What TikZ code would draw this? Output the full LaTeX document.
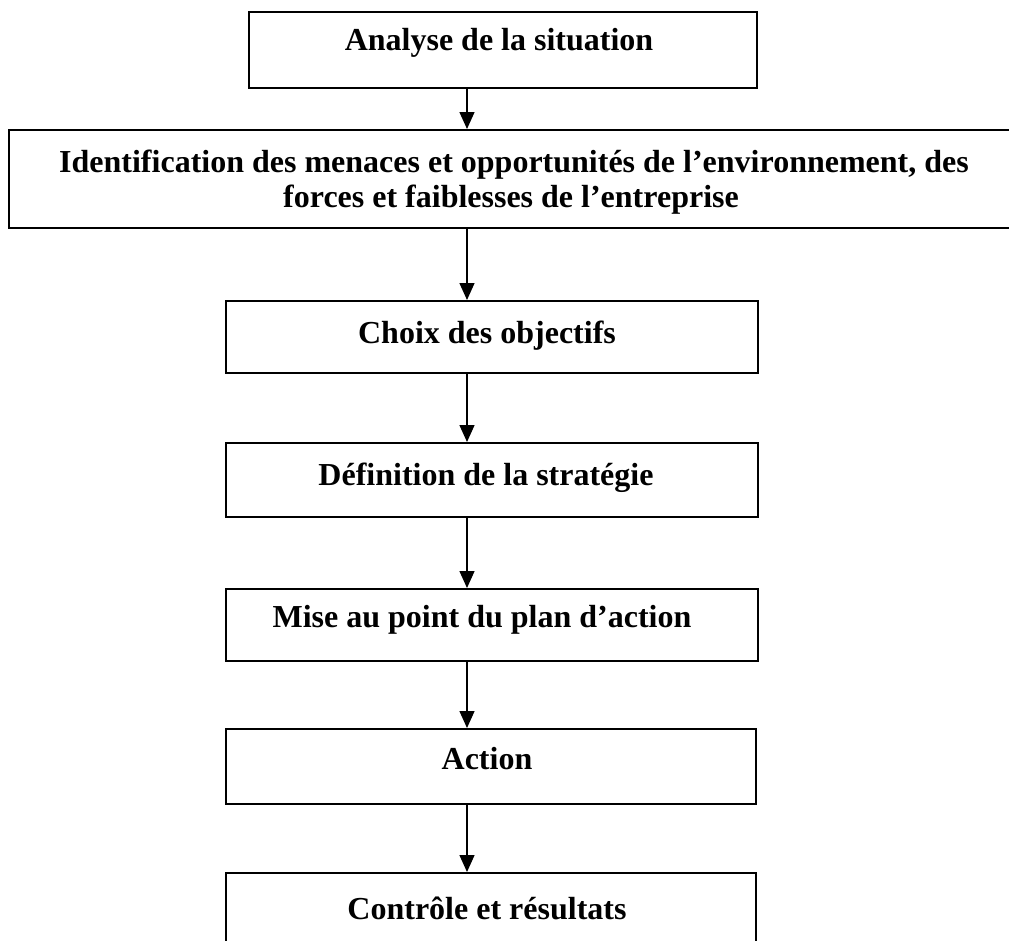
\documentclass[tikz,border=0pt]{standalone}
\usepackage{fontspec}
\setmainfont{Liberation Serif}
\usetikzlibrary{arrows.meta}
\begin{document}
\begin{tikzpicture}[x=1pt,y=-1pt,
  box/.style={draw=black,line width=1.8pt,fill=none,inner sep=0pt,anchor=north west},
  lbl/.style={font=\bfseries\fontsize{32}{36}\selectfont,anchor=base,inner sep=0pt},
  arr/.style={line width=1.4pt,-{Triangle[length=17pt,width=15pt]}}]
\useasboundingbox (0,0) rectangle (1009,940);
\node[box,minimum width=508pt,minimum height=76pt] (b1) at (248,11) {};
\node[box,minimum width=1020pt,minimum height=98pt] (b2) at (8,129) {};
\node[box,minimum width=532pt,minimum height=72pt] (b3) at (225,300) {};
\node[box,minimum width=532pt,minimum height=74pt] (b4) at (225,442) {};
\node[box,minimum width=532pt,minimum height=72pt] (b5) at (225,588) {};
\node[box,minimum width=530pt,minimum height=75pt] (b6) at (225,728) {};
\node[box,minimum width=530pt,minimum height=100pt] (b7) at (225,872) {};
\node[lbl] (t1) at (499,50) {Analyse de la situation};
\node[lbl] (t2a) at (514,172) {Identification des menaces et opportunités de l’environnement, des};
\node[lbl] (t2b) at (511,207) {forces et faiblesses de l’entreprise};
\node[lbl] (t3) at (487,343) {Choix des objectifs};
\node[lbl] (t4) at (486,485) {Définition de la stratégie};
\node[lbl] (t5) at (482,627) {Mise au point du plan d’action};
\node[lbl] (t6) at (487,769) {Action};
\node[lbl] (t7) at (487,919) {Contrôle et résultats};
\coordinate (ax) at (467,0);
\draw[arr] (b1.south -| ax) -- (b2.north -| ax);
\draw[arr] (b2.south -| ax) -- (b3.north -| ax);
\draw[arr] (b3.south -| ax) -- (b4.north -| ax);
\draw[arr] (b4.south -| ax) -- (b5.north -| ax);
\draw[arr] (b5.south -| ax) -- (b6.north -| ax);
\draw[arr] (b6.south -| ax) -- (b7.north -| ax);
\end{tikzpicture}
\end{document}
